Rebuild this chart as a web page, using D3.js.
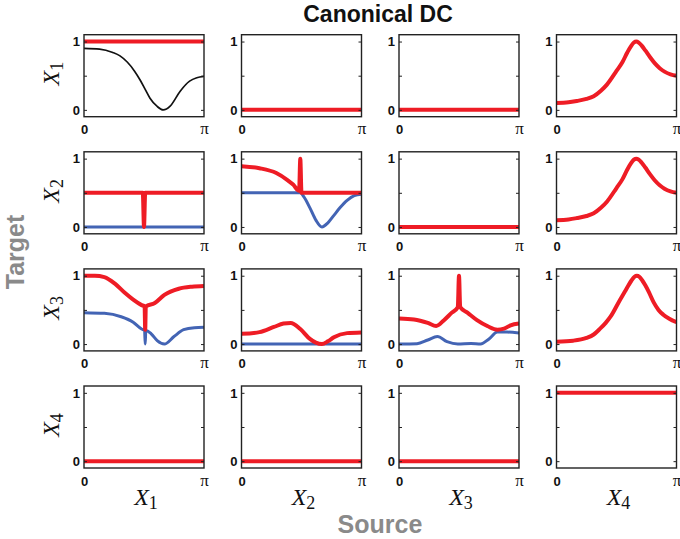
<!DOCTYPE html>
<html>
<head>
<meta charset="utf-8">
<script src="https://cdn.jsdelivr.net/npm/d3@7"></script>
<style>
  body { margin: 0; background: #fff; }
  svg { display: block; }
</style>
</head>
<body>
<div id="chart"></div>
<script>
// x values are fractions of pi, y values are the plotted magnitudes
let rowNames = ["1", "2", "3", "4"];
let colNames = ["1", "2", "3", "4"];
let yTicks = [0, 0.5, 1];
let yTickLabels = ["0", "", "1"];
let xTicks = [0, 1];
let xTickLabels = ["0", "π"];

let flatOne = [[0, 1], [1, 1]];
let flatZero = [[0, 0], [1, 0]];

let black11 = [[0, 0.9], [0.13, 0.89], [0.24, 0.84], [0.3, 0.79], [0.36, 0.7], [0.42, 0.57],
    [0.47, 0.43], [0.51, 0.3], [0.55, 0.17], [0.61, 0.05], [0.66, 0], [0.72, 0.06],
    [0.8, 0.27], [0.88, 0.42], [0.94, 0.47], [1, 0.49]];

let peak14 = [[0, 0.1], [0.1, 0.11], [0.17, 0.13], [0.25, 0.16], [0.31, 0.2], [0.37, 0.28],
    [0.42, 0.37], [0.5, 0.57], [0.55, 0.7], [0.59, 0.84], [0.62, 0.93], [0.645, 0.985],
    [0.665, 1.0], [0.685, 0.985], [0.71, 0.94], [0.74, 0.87], [0.78, 0.77], [0.82, 0.68],
    [0.86, 0.61], [0.9, 0.56], [0.95, 0.52], [1, 0.5]];

let red21 = [[0, 0.5], [0.49, 0.5], [0.5, 0], [0.51, 0.5], [1, 0.5]];

let red22 = [[0, 0.89], [0.15, 0.86], [0.29, 0.79], [0.38, 0.69], [0.43, 0.62], [0.48, 0.53],
    [0.49, 1.0], [0.5, 0.5], [1, 0.5]];
let blue22 = [[0, 0.5], [0.49, 0.5], [0.52, 0.44], [0.57, 0.28], [0.62, 0.1], [0.67, 0],
    [0.72, 0.06], [0.77, 0.17], [0.82, 0.28], [0.88, 0.39], [0.94, 0.46], [1, 0.48]];

let red31 = [[0, 1.0], [0.09, 1.0], [0.17, 0.98], [0.26, 0.88], [0.34, 0.75], [0.41, 0.65],
    [0.48, 0.57], [0.505, 0.55], [0.51, 0.21], [0.515, 0.55], [0.59, 0.6], [0.67, 0.72],
    [0.79, 0.81], [0.9, 0.84], [1, 0.85]];
let blue31 = [[0, 0.46], [0.17, 0.45], [0.31, 0.4], [0.41, 0.32], [0.48, 0.22], [0.505, 0.2],
    [0.51, 0], [0.515, 0.2], [0.56, 0.15], [0.61, 0.05], [0.67, 0], [0.75, 0.11],
    [0.83, 0.21], [0.92, 0.24], [1, 0.245]];

let red32 = [[0, 0.15], [0.15, 0.175], [0.27, 0.25], [0.35, 0.3], [0.41, 0.31], [0.49, 0.22],
    [0.57, 0.075], [0.62, 0.02], [0.67, 0], [0.72, 0.04], [0.77, 0.1], [0.88, 0.16], [1, 0.17]];

let red33 = [[0, 0.375], [0.125, 0.36], [0.24, 0.31], [0.31, 0.265], [0.375, 0.35], [0.44, 0.46],
    [0.49, 0.54], [0.5, 1.0], [0.51, 0.54], [0.57, 0.46], [0.65, 0.35], [0.74, 0.26],
    [0.82, 0.21], [0.875, 0.225], [0.93, 0.275], [1, 0.3]];
let blue33 = [[0, 0], [0.15, 0.005], [0.24, 0.06], [0.32, 0.11], [0.4, 0.035], [0.49, 0],
    [0.6, 0.01], [0.68, 0], [0.75, 0.075], [0.82, 0.175], [0.9, 0.175], [1, 0.16]];

let peak34 = [[0, 0.035], [0.14, 0.05], [0.25, 0.09], [0.31, 0.14], [0.36, 0.22], [0.41, 0.31],
    [0.45, 0.4], [0.53, 0.65], [0.57, 0.77], [0.6, 0.86], [0.625, 0.93], [0.65, 0.985],
    [0.67, 1.0], [0.69, 0.985], [0.715, 0.93], [0.74, 0.86], [0.77, 0.76], [0.81, 0.61],
    [0.85, 0.5], [0.89, 0.43], [0.94, 0.37], [1, 0.32]];

// which series go in which panel (row = target, col = source)
let panels = [
    [{black: black11, red: flatOne}, {red: flatZero}, {red: flatZero}, {red: peak14}],
    [{blue: flatZero, red: red21}, {blue: blue22, red: red22}, {red: flatZero}, {red: peak14}],
    [{blue: blue31, red: red31}, {blue: flatZero, red: red32}, {blue: blue33, red: red33}, {red: peak34}],
    [{red: flatZero}, {red: flatZero}, {red: flatZero}, {red: flatOne}]
];

let width = 680;
let height = 539;
let panelW = 120;
let panelH = 82;
let left0 = 84;
let top0 = 34.7;
let colStep = 157.5;
let rowStep = 117.1;

let serif = "'Liberation Serif', 'Times New Roman', 'DejaVu Serif', serif";
let sans = "'Liberation Sans', Arial, Helvetica, sans-serif";
let gray = "#8a8a8a";

let styles = {
    blue: {color: "#4364b4", w: 3},
    red: {color: "#ee1c25", w: 4},
    black: {color: "#111", w: 1.7}
};

let svg = d3.select("#chart").append("svg")
    .attr("width", width)
    .attr("height", height);

let x = d3.scaleLinear().domain([0, 1]).range([0, panelW]);
let y = d3.scaleLinear().domain([-0.1, 1.1]).range([panelH, 0]);

let line = d3.line()
    .x(d => x(d[0]))
    .y(d => y(d[1]))
    .curve(d3.curveMonotoneX);

svg.append("clipPath").attr("id", "clip")
    .append("rect")
    .attr("x", 0).attr("y", 0)
    .attr("width", panelW).attr("height", panelH);

for (let r = 0; r < 4; r++) {
    for (let c = 0; c < 4; c++) {
        let g = svg.append("g")
            .attr("transform", "translate(" + (left0 + c * colStep) + "," + (top0 + r * rowStep) + ")");

        let cell = panels[r][c];
        let plot = g.append("g").attr("clip-path", "url(#clip)");
        for (let key of ["black", "blue", "red"]) {
            if (!cell[key]) continue;
            plot.append("path")
                .datum(cell[key])
                .attr("d", line)
                .attr("fill", "none")
                .attr("stroke", styles[key].color)
                .attr("stroke-width", styles[key].w)
                .attr("stroke-linejoin", "round");
        }

        // y axis left (labels) and right (ticks only), ticks pointing inward
        let yl = g.append("g")
            .call(d3.axisLeft(y).tickValues(yTicks).tickSizeInner(-3).tickSizeOuter(0).tickPadding(4)
                .tickFormat((d, i) => yTickLabels[i]));
        let yr = g.append("g")
            .attr("transform", "translate(" + panelW + ",0)")
            .call(d3.axisRight(y).tickValues(yTicks).tickSizeInner(-3).tickSizeOuter(0).tickFormat(""));

        let xb = g.append("g")
            .attr("transform", "translate(0," + panelH + ")")
            .call(d3.axisBottom(x).tickValues(xTicks).tickSizeInner(0).tickSizeOuter(0).tickPadding(0)
                .tickFormat((d, i) => xTickLabels[i]));

        for (let ax of [yl, yr, xb]) {
            ax.select(".domain").remove();
            ax.selectAll("line").attr("stroke", "#222").attr("stroke-width", 1);
        }
        yl.selectAll("text")
            .attr("fill", "#111")
            .style("font-family", sans)
            .style("font-size", "13px")
            .style("font-weight", "bold");
        xb.selectAll("text")
            .attr("fill", "#111")
            .attr("dy", 0)
            .attr("y", 17.5)
            .style("font-family", (d, i) => i === 0 ? sans : serif)
            .style("font-size", (d, i) => i === 0 ? "13px" : "17px")
            .style("font-weight", (d, i) => i === 0 ? "bold" : "normal");

        g.append("rect")
            .attr("width", panelW)
            .attr("height", panelH)
            .attr("fill", "none")
            .attr("stroke", "#222")
            .attr("stroke-width", 1.4);
    }
}

// row labels (target)
rowNames.forEach((name, r) => {
    let t = svg.append("text")
        .attr("transform", "translate(59," + (top0 + r * rowStep + panelH / 2 - 2) + ") rotate(-90)")
        .attr("text-anchor", "middle")
        .style("font-family", serif)
        .style("font-size", "24px")
        .attr("fill", "#111");
    t.append("tspan").style("font-style", "italic").text("X");
    t.append("tspan").attr("dy", 4).style("font-size", "18px").text(name);
});

// column labels (source)
colNames.forEach((name, c) => {
    let t = svg.append("text")
        .attr("x", left0 + c * colStep + panelW / 2 + 2)
        .attr("y", 505)
        .attr("text-anchor", "middle")
        .style("font-family", serif)
        .style("font-size", "24px")
        .attr("fill", "#111");
    t.append("tspan").style("font-style", "italic").text("X");
    t.append("tspan").attr("dy", 4).style("font-size", "18px").text(name);
});

svg.append("text")
    .attr("x", 378)
    .attr("y", 22)
    .attr("text-anchor", "middle")
    .style("font-family", sans)
    .style("font-size", "23px")
    .style("font-weight", "bold")
    .attr("fill", "#111")
    .text("Canonical DC");

svg.append("text")
    .attr("x", 380)
    .attr("y", 533)
    .attr("text-anchor", "middle")
    .style("font-family", sans)
    .style("font-size", "25px")
    .style("font-weight", "bold")
    .attr("fill", gray)
    .text("Source");

svg.append("text")
    .attr("transform", "translate(24,252) rotate(-90)")
    .attr("text-anchor", "middle")
    .style("font-family", sans)
    .style("font-size", "25px")
    .style("font-weight", "bold")
    .attr("fill", gray)
    .text("Target");
</script>
</body>
</html>
